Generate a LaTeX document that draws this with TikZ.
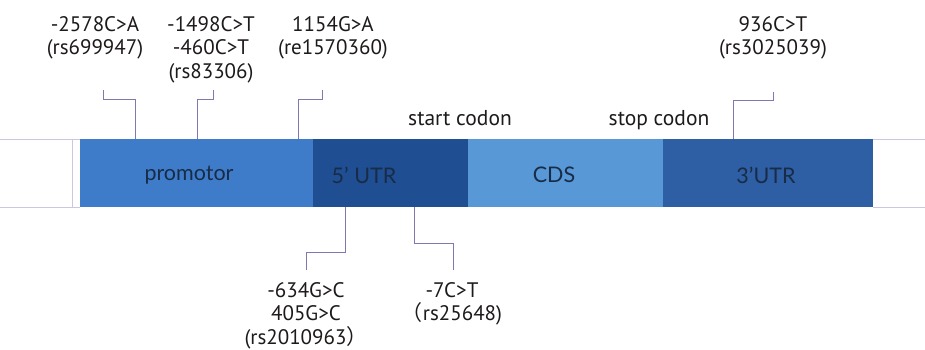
\documentclass[tikz,border=0pt]{standalone}
\usepackage{fontspec}
\setmainfont{PT Sans}
\newfontfamily\barfont{Lato}
\newfontfamily\cjk{Noto Sans CJK SC}
\usetikzlibrary{calc}
\definecolor{cprom}{RGB}{62,124,201}
\definecolor{cutrf}{RGB}{31,78,147}
\definecolor{ccds}{RGB}{88,152,214}
\definecolor{cutrt}{RGB}{46,94,164}
\definecolor{cbartext}{RGB}{24,44,72}
\definecolor{cconn}{RGB}{130,120,175}
\definecolor{cfaint}{RGB}{200,200,225}
\definecolor{ctext}{RGB}{30,26,26}
\tikzset{
  seg/.style={rectangle, draw=none, inner sep=0pt, outer sep=0pt, minimum height=68pt},
  segtext/.style={font=\barfont\fontsize{21.5}{24}\selectfont, text=cbartext, inner sep=0pt},
  snp/.style={font=\fontsize{21}{23.5}\selectfont, text=ctext, align=center, anchor=base, inner sep=0pt},
  codon/.style={font=\fontsize{21.5}{24}\selectfont, text=ctext, anchor=base, inner sep=0pt},
  conn/.style={draw=cconn, line width=0.9pt},
  faint/.style={draw=cfaint, line width=0.9pt}
}
\begin{document}
\begin{tikzpicture}[x=1pt,y=-1pt]
\useasboundingbox (0,0) rectangle (925,349);
% faint frame lines
\draw[faint] (0,139) -- (80,139);
\draw[faint] (0,207) -- (80,207);
\draw[faint] (72,139) -- (72,207);
\draw[faint] (873,139) -- (925,139);
\draw[faint] (873,207) -- (925,207);
% segments
\node[seg, fill=cprom, minimum width=233pt] (prom) at (196.5,173) {};
\node[seg, fill=cutrf, minimum width=155pt] (utr5) at (390.5,173) {};
\node[seg, fill=ccds,  minimum width=195pt] (cds)  at (565.5,173) {};
\node[seg, fill=cutrt, minimum width=210pt] (utr3) at (768,173) {};
\node[segtext] (tprom) at (189,175) {promotor};
\node[segtext] (tutr5) at (364,175) {5’ UTR};
\node[segtext] (tcds)  at (554,175) {CDS};
\node[segtext] (tutr3) at (766,175) {3’UTR};
% codon labels
\node[codon] (start) at (460,125) {start codon};
\node[codon] (stop)  at (659,125) {stop codon};
% SNP labels (anchor base = baseline of the last line)
\node[snp] (l1) at (95,54.5) {-2578C>A\\(rs699947)};
\node[snp] (l2) at (211,78) {-1498C>T\\-460C>T\\(rs83306)};
\node[snp] (l3) at (333,54.5) {1154G>A\\(re1570360)};
\node[snp] (l4) at (773,54.5) {936C>T\\(rs3025039)};
\node[snp] (l5) at (306,344) {-634G>C\\405G>C\\(rs2010963{\cjk ）}};
\node[snp] (l6) at (452,320.5) {-7C>T\\{\cjk （}rs25648)};
% connector ends
\coordinate (a1) at ($(prom.north west)+(55,0)$);
\coordinate (a2) at ($(prom.north west)+(117,0)$);
\coordinate (a3) at ($(prom.north west)+(218,0)$);
\coordinate (a4) at ($(utr3.north west)+(70,0)$);
\coordinate (a5) at ($(utr5.south west)+(32,0)$);
\coordinate (a6) at ($(utr5.south west)+(101,0)$);
\coordinate (e1) at (103,90);
\coordinate (e2) at (213,90);
\coordinate (e3) at (322,90);
\coordinate (e4) at (773,92);
\coordinate (e5) at (306,270);
\coordinate (e6) at (453,270);
\draw[conn] (a1) -- ++(0,-40) -| (e1);
\draw[conn] (a2) -- ++(0,-40) -| (e2);
\draw[conn] (a3) -- ++(0,-40) -| (e3);
\draw[conn] (a4) -- ++(0,-39) -| (e4);
\draw[conn] (a5) -- ++(0,45) -| (e5);
\draw[conn] (a6) -- ++(0,36) -| (e6);
\end{tikzpicture}
\end{document}
